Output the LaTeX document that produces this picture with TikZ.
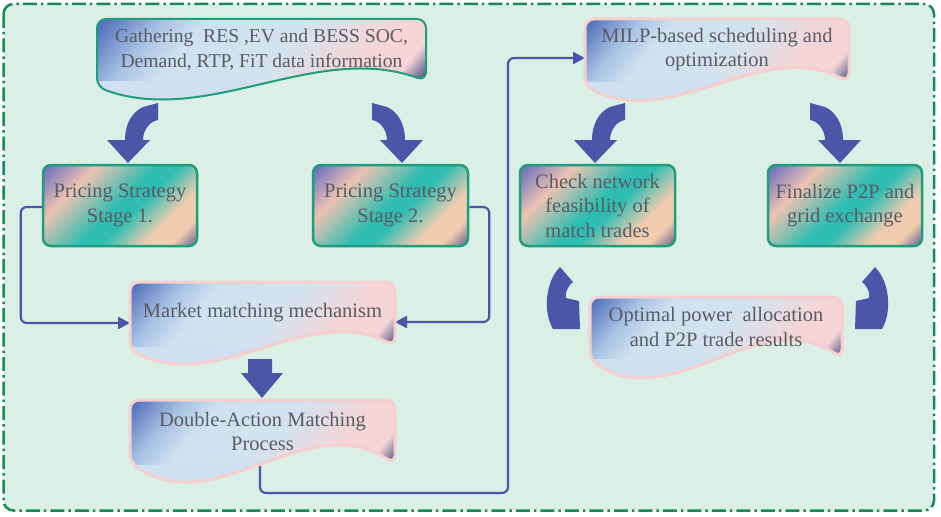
\documentclass[tikz,border=0pt]{standalone}
\usepackage{fontspec}
\setmainfont{Liberation Serif}
\usetikzlibrary{arrows.meta,calc}
\definecolor{bgmint}{HTML}{DAEFE6}
\definecolor{framegreen}{HTML}{17895B}
\definecolor{boxteal}{HTML}{1F9D7C}
\definecolor{arrowblue}{HTML}{4A57A8}
\definecolor{txtgray}{HTML}{5A5B63}
\definecolor{pinkline}{HTML}{F6CFCF}
\definecolor{dA}{HTML}{5270BA}
\definecolor{dB}{HTML}{A7C2E4}
\definecolor{dC}{HTML}{CFE1F0}
\definecolor{dD}{HTML}{D6E2EC}
\definecolor{dE}{HTML}{F5D5D6}
\definecolor{dF}{HTML}{62628F}
\definecolor{bA}{HTML}{6B70BF}
\definecolor{bB}{HTML}{EDC3B2}
\definecolor{bC}{HTML}{30BDB1}
\definecolor{bD}{HTML}{F1CCB0}
\definecolor{bE}{HTML}{55568E}
\pgfdeclarehorizontalshading{docshade}{100bp}{color(0bp)=(dA); color(16bp)=(dA); color(27bp)=(dB); color(35bp)=(dC); color(55bp)=(dD); color(70bp)=(dE); color(79bp)=(dE); color(84bp)=(dF); color(100bp)=(dF)}
\pgfdeclarehorizontalshading{boxshade}{100bp}{color(0bp)=(bA); color(16bp)=(bA); color(31bp)=(bB); color(49bp)=(bC); color(56bp)=(bC); color(69bp)=(bD); color(77bp)=(bD); color(86bp)=(bE); color(100bp)=(bE)}
\pgfdeclarelayer{frame}
\pgfdeclarelayer{lines}
\pgfdeclarelayer{shapes}
\pgfsetlayers{frame,lines,shapes,main}
% document outline: node, drop left, drop right, wave amplitude
\newcommand{\docoutline}[4]{(#1.west) -- (#1.north west) -- (#1.north east) -- ([yshift=-#3pt]#1.south east)
  .. controls ($([yshift=-#3pt]#1.south east)!0.333!([yshift=-#2pt]#1.south west)+(0,-#4)$) and ($([yshift=-#3pt]#1.south east)!0.667!([yshift=-#2pt]#1.south west)+(0,#4)$) .. ([yshift=-#2pt]#1.south west) -- cycle}
\newcommand{\docshape}[5]{%
  \begin{scope}
    \clip[rounded corners=9] \docoutline{#1}{#2}{#3}{#4};
    \fill[dC] ([yshift=5pt]#1.north west) rectangle ([yshift=-30pt]#1.south east);
    \shade[shading=docshade, shading angle=-40] (#1.north west) rectangle ([yshift=-#3pt]#1.south east);
  \end{scope}
  \draw[rounded corners=9, #5] \docoutline{#1}{#2}{#3}{#4};}
\newcommand{\topcurve}{(143,107) -- (158,103) -- (158,120) .. controls (150,121) and (143,130) .. (143,140) -- (150,140) -- (128,163) -- (107,140) -- (125,140) .. controls (125,124) and (132,112) .. (143,107) -- cycle}
\newcommand{\botcurve}{(560,267) -- (573,282) .. controls (567,287) and (565,293) .. (566,298) -- (579,301) -- (580,329) -- (553,329) .. controls (543,312) and (545,282) .. (560,267) -- cycle}
\begin{document}
\begin{tikzpicture}[x=1pt,y=-1pt,
  txt/.style={font=\fontsize{20.5}{24.5}\selectfont, text=txtgray, align=center},
  docnode/.style={txt, inner sep=0pt, outer sep=0pt, rectangle},
  pbox/.style={txt, rounded corners=8, draw=boxteal, line width=2.5, shading=boxshade, shading angle=-45, minimum width=154, minimum height=81, inner sep=0pt},
  conn/.style={draw=arrowblue, line width=2.2, rounded corners=6, -{Triangle[length=12pt,width=12pt]}},
  blockarrow/.style={fill=arrowblue}]
\useasboundingbox (0,0) rectangle (941,516);
\begin{pgfonlayer}{frame}
  \fill[white] (0,0) rectangle (941,516);
  \draw[framegreen, fill=bgmint, line width=2.5, rounded corners=10, dash pattern=on 14pt off 4pt on 2.5pt off 4pt] (3.5,4) rectangle (934,510.5);
\end{pgfonlayer}

% document-shaped steps
\node[docnode, font=\fontsize{19.6}{24.5}\selectfont, minimum width=329, minimum height=61] (gat) at (261.5,49.5) {Gathering\hspace{0.5em}RES ,EV and BESS SOC,\\Demand, RTP, FiT data information};
\node[docnode, minimum width=264, minimum height=61] (milp) at (717,49.5) {MILP-based scheduling and\\optimization};
\node[docnode, minimum width=265, minimum height=62] (mm) at (262.5,313) {Market matching mechanism};
\node[docnode, minimum width=265, minimum height=63] (da) at (262.5,431.5) {Double-Action Matching\\Process};
\node[docnode, minimum width=252, minimum height=60] (opt) at (716,327) {Optimal power\ \ allocation\\and P2P trade results};

% rounded boxes
\node[pbox] (s1) at (120,205.5) {Pricing Strategy\\Stage 1.};
\node[pbox, minimum width=155] (s2) at (390.5,205.5) {Pricing Strategy\\Stage 2.};
\node[pbox, minimum width=155] (chk) at (597.5,205.5) {Check network\\feasibility of\\match trades};
\node[pbox] (fin) at (845,205.5) {Finalize P2P and\\grid exchange};

\begin{pgfonlayer}{shapes}
  \docshape{gat}{7}{1}{42}{draw=boxteal, line width=2}
  \docshape{milp}{6}{2}{46}{draw=pinkline, line width=3}
  \docshape{mm}{6}{2}{45}{draw=pinkline, line width=3}
  \docshape{da}{0}{1}{57}{draw=pinkline, line width=3}
  \docshape{opt}{3}{1}{55}{draw=pinkline, line width=3}
  % curved block arrows
  \fill[blockarrow] \topcurve;
  \begin{scope}[shift={(530,0)}, xscale=-1] \fill[blockarrow] \topcurve; \end{scope}
  \begin{scope}[shift={(467,0)}] \fill[blockarrow] \topcurve; \end{scope}
  \begin{scope}[shift={(968,0)}, xscale=-1] \fill[blockarrow] \topcurve; \end{scope}
  \fill[blockarrow] \botcurve;
  \begin{scope}[shift={(1435,0)}, xscale=-1] \fill[blockarrow] \botcurve; \end{scope}
  % straight block arrow
  \fill[blockarrow] (248,359) -- (272,359) -- (272,373) -- (283,373) -- (262,398) -- (241,373) -- (248,373) -- cycle;
\end{pgfonlayer}

\begin{pgfonlayer}{lines}
  \draw[conn] ([yshift=-1.5pt]s1.west) -- ++(-21,0) |- ([yshift=-10pt]mm.west);
  \draw[conn] ([yshift=-1.5pt]s2.east) -- ++(20,0) |- ([yshift=-9pt]mm.east);
  \draw[conn] ([xshift=-2.5pt]da.south) -- ++(0,30) -| ($([yshift=-8.5pt]milp.west)+(-77,0)$) -- ([yshift=-8.5pt]milp.west);
\end{pgfonlayer}
\end{tikzpicture}
\end{document}
